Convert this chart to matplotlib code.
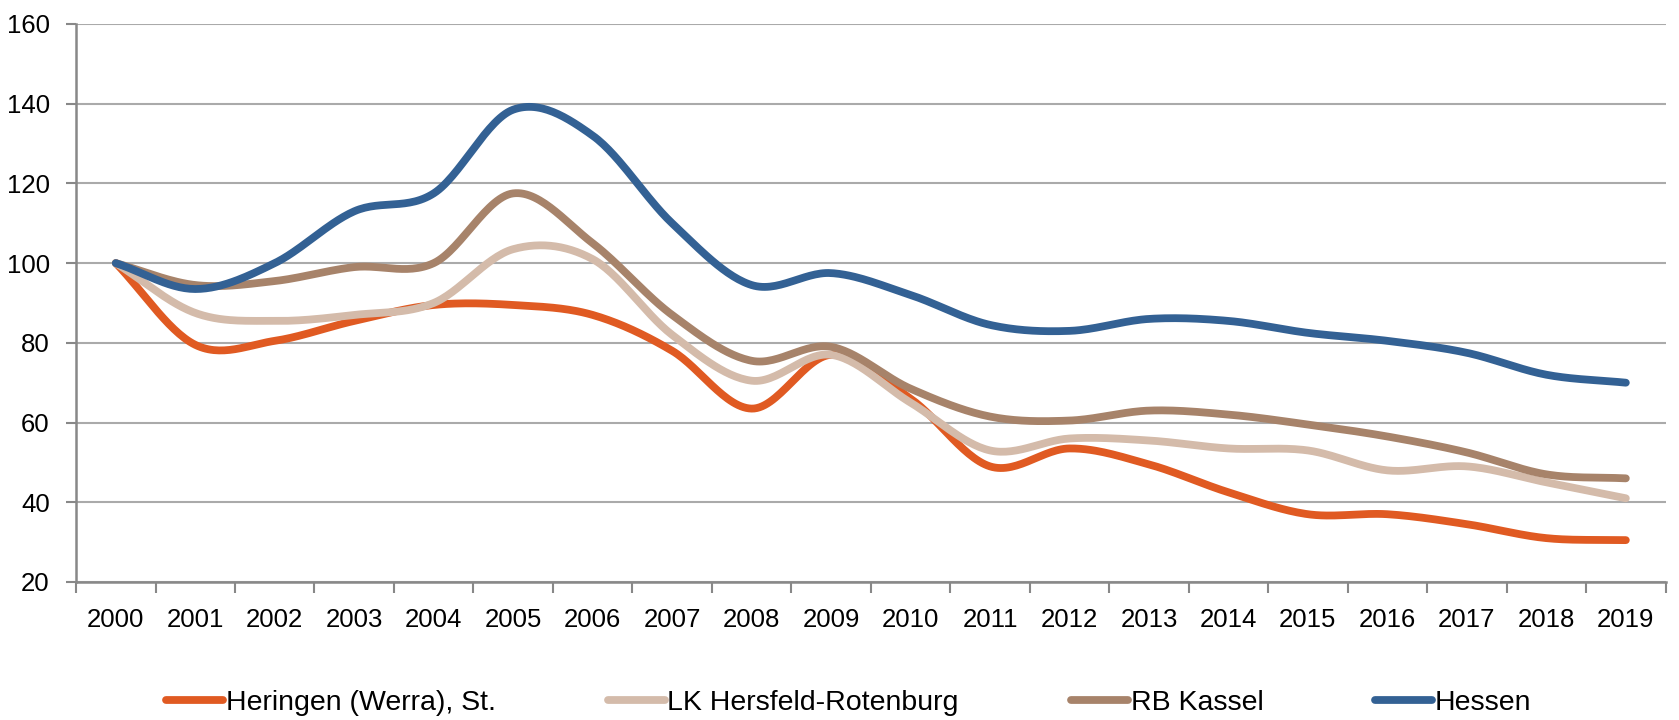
import numpy as np
import matplotlib
matplotlib.use("Agg")
import matplotlib.pyplot as plt
from matplotlib.ticker import MultipleLocator, FixedLocator

plt.rcParams['font.family'] = ['Liberation Sans Narrow', 'Liberation Sans', 'DejaVu Sans']

years = list(range(2000, 2020))
heringen = [100, 79.5, 80.5, 85.5, 89.5, 89.5, 87, 78, 63.5, 77, 66, 49, 53.5, 49.5, 42.5, 37, 37, 34.5, 31, 30.5]
lk_hersfeld = [100, 87.5, 85.5, 87, 90, 103.5, 101, 82, 70.5, 77, 65, 53, 56, 55.5, 53.5, 53, 48, 49, 45, 41]
rb_kassel = [100, 94.5, 95.5, 99, 100, 117.5, 105, 87, 75.5, 79, 68.5, 61.5, 60.5, 63, 62, 59.5, 56.5, 52.5, 47, 46]
hessen = [100, 93.5, 100, 113, 117.5, 138.5, 132, 110, 94.5, 97.5, 92, 84.5, 83, 86, 85.5, 82.5, 80.5, 77.5, 72, 70]

series = [
    ('Heringen (Werra), St.', heringen, '#E05A22'),
    ('LK Hersfeld-Rotenburg', lk_hersfeld, '#D4BBAA'),
    ('RB Kassel', rb_kassel, '#A7836A'),
    ('Hessen', hessen, '#336194'),
]


def smooth(x, y, n=30):
    # Catmull-Rom, roughly what Excel's "smoothed line" does
    x = np.asarray(x, float)
    y = np.asarray(y, float)
    px = np.concatenate([[2 * x[0] - x[1]], x, [2 * x[-1] - x[-2]]])
    py = np.concatenate([[2 * y[0] - y[1]], y, [2 * y[-1] - y[-2]]])
    xs, ys = [], []
    t = np.linspace(0, 1, n, endpoint=False)
    for i in range(1, len(px) - 2):
        for p, out in ((px, xs), (py, ys)):
            p0, p1, p2, p3 = p[i - 1], p[i], p[i + 1], p[i + 2]
            out.extend(0.5 * ((2 * p1) + (-p0 + p2) * t
                              + (2 * p0 - 5 * p1 + 4 * p2 - p3) * t ** 2
                              + (-p0 + 3 * p1 - 3 * p2 + p3) * t ** 3))
    xs.append(x[-1])
    ys.append(y[-1])
    return np.array(xs), np.array(ys)


fig = plt.figure(figsize=(16.79, 7.2), dpi=100)
ax = fig.add_axes([0.0453, 0.1917, 0.9467, 0.775])

pos = np.arange(len(years))
for name, vals, col in series:
    sx, sy = smooth(pos, vals)
    ax.plot(sx, sy, color=col, lw=5.6, solid_capstyle='round', label=name)

ax.set_xlim(-0.5, len(years) - 0.5)
ax.set_ylim(20, 160)
ax.yaxis.set_major_locator(MultipleLocator(20))
ax.set_xticks(pos)
ax.set_xticklabels([str(y) for y in years])
ax.xaxis.set_minor_locator(FixedLocator(np.arange(-0.5, len(years), 1)))
ax.tick_params(axis='x', which='major', length=0, pad=19, labelsize=18.5)
ax.tick_params(axis='x', which='minor', length=8, width=1.5, color='#888888')
ax.tick_params(axis='y', length=7, width=1.5, color='#888888', labelsize=18.5, pad=12)

ax.grid(axis='y', color='#AAAAAA', lw=1.5)
ax.set_axisbelow(True)
for s in ['top', 'right']:
    ax.spines[s].set_visible(False)
for s in ['left', 'bottom']:
    ax.spines[s].set_color('#888888')
    ax.spines[s].set_linewidth(1.8)

fig.legend(loc='center left', bbox_to_anchor=(166 / 1679, 1 - 703 / 720), ncol=4, frameon=False,
           fontsize=20.5, handlelength=2.0, handletextpad=0.1, columnspacing=3.93, borderpad=0,
           borderaxespad=0)

fig.savefig('out.png', dpi=100)
